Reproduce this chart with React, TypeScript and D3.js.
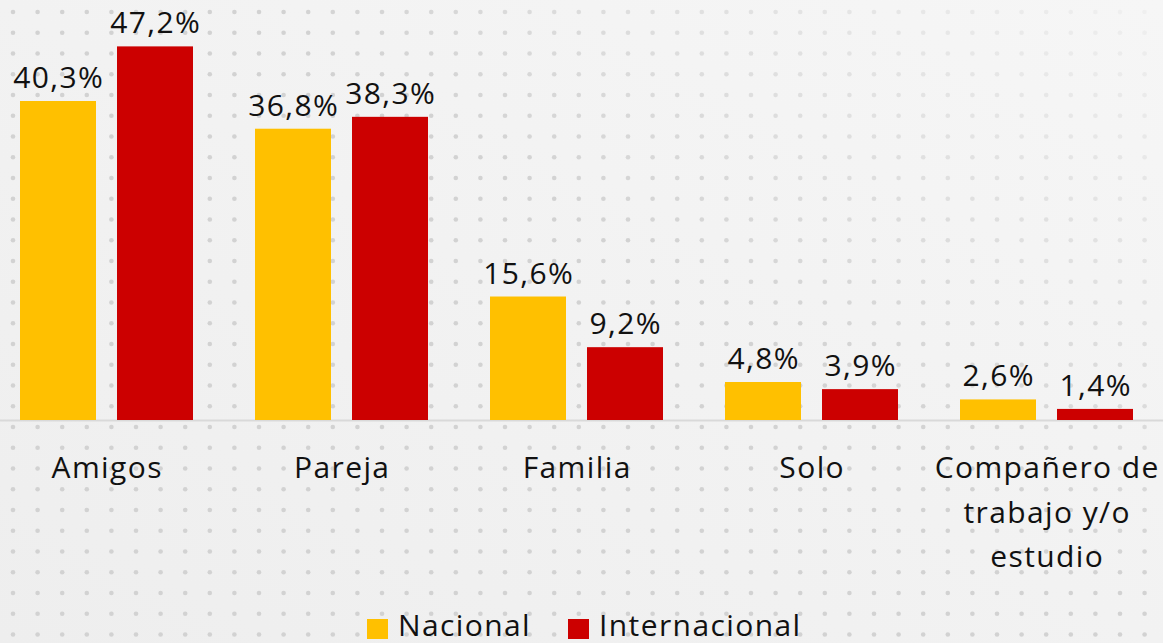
import React from "react";
import * as d3 from "d3";

const categories = ["Amigos", "Pareja", "Familia", "Solo", "Compañero de trabajo y/o estudio"];
const categoryLines = [["Amigos"], ["Pareja"], ["Familia"], ["Solo"], ["Compañero de", "trabajo y/o", "estudio"]];
const seriesNames = ["Nacional", "Internacional"];
const nacional = [40.3, 36.8, 15.6, 4.8, 2.6];
const internacional = [47.2, 38.3, 9.2, 3.9, 1.4];
const colors = ["#FFC000", "#CC0000"];

const W = 1163;
const H = 643;
const FONT = "'Open Sans', Lato, sans-serif";
const FS = 30;
const LS = 1.4;

export default function App() {
  const x0 = d3.scaleBand<string>().domain(categories).range([-11, 1164]).paddingInner(0).paddingOuter(0);
  const x1 = d3.scaleBand<string>().domain(seriesNames).range([31, 204]).paddingInner(21 / 97).paddingOuter(0);
  const y = d3.scaleLinear().domain([0, 53.06]).range([420, 0]);
  const fmt = (v: number) => v.toFixed(1).replace(".", ",") + "%";

  const dots: { x: number; y: number; o: number }[] = [];
  for (let r = 0; r < 32; r++) {
    for (let c = 0; c < 48; c++) {
      const dx = 13 + c * 24.6;
      const dy = 12 + r * 20.75;
      const t = 1.25 - (dx / W) * 1.1 + (dy / H) * 0.9;
      const o = Math.max(0, Math.min(1, t));
      if (o > 0.02) dots.push({ x: dx, y: dy, o });
    }
  }

  const data = categories.map((c, i) => ({ c, vals: [nacional[i], internacional[i]] }));

  return (
    <svg width={W} height={H} style={{ position: "fixed", left: 0, top: 0 }} fontFamily={FONT} letterSpacing={LS}>
      <defs>
        <linearGradient id="bg" x1="0" y1="1" x2="1" y2="0">
          <stop offset="0" stopColor="#eeeeee" />
          <stop offset="1" stopColor="#f6f6f6" />
        </linearGradient>
      </defs>
      <rect width={W} height={H} fill="url(#bg)" />
      <g>
        {dots.map((d, i) => (
          <circle key={i} cx={d.x} cy={d.y} r={2.3} fill="#d2d2d2" opacity={d.o} />
        ))}
      </g>
      <line x1={0} x2={W} y1={420.5} y2={420.5} stroke="#d9d9d9" strokeWidth={2} />
      {data.map((d) => (
        <g key={d.c} transform={`translate(${x0(d.c)},0)`}>
          {d.vals.map((v, j) => {
            const bx = x1(seriesNames[j])!;
            const bw = x1.bandwidth();
            return (
              <g key={j}>
                <rect x={bx} y={y(v)} width={bw} height={y(0) - y(v)} fill={colors[j]} />
                <text x={bx + bw / 2 + LS / 2} y={y(v) - 13} textAnchor="middle" fontSize={FS} fill="#111">
                  {fmt(v)}
                </text>
              </g>
            );
          })}
        </g>
      ))}
      {categories.map((c, i) => {
        const cx = x0(c)! + x0.bandwidth() / 2 + LS / 2;
        return (
          <text key={c} x={cx} textAnchor="middle" fontSize={FS} fill="#111">
            {categoryLines[i].map((ln, k) => (
              <tspan key={k} x={cx} y={478 + k * 44.5}>
                {ln}
              </tspan>
            ))}
          </text>
        );
      })}
      <g>
        <rect x={367} y={619} width={21} height={20} fill={colors[0]} />
        <text x={398} y={636} fontSize={FS} fill="#111">{seriesNames[0]}</text>
        <rect x={568} y={619} width={21} height={20} fill={colors[1]} />
        <text x={599} y={636} fontSize={FS} fill="#111">{seriesNames[1]}</text>
      </g>
    </svg>
  );
}
